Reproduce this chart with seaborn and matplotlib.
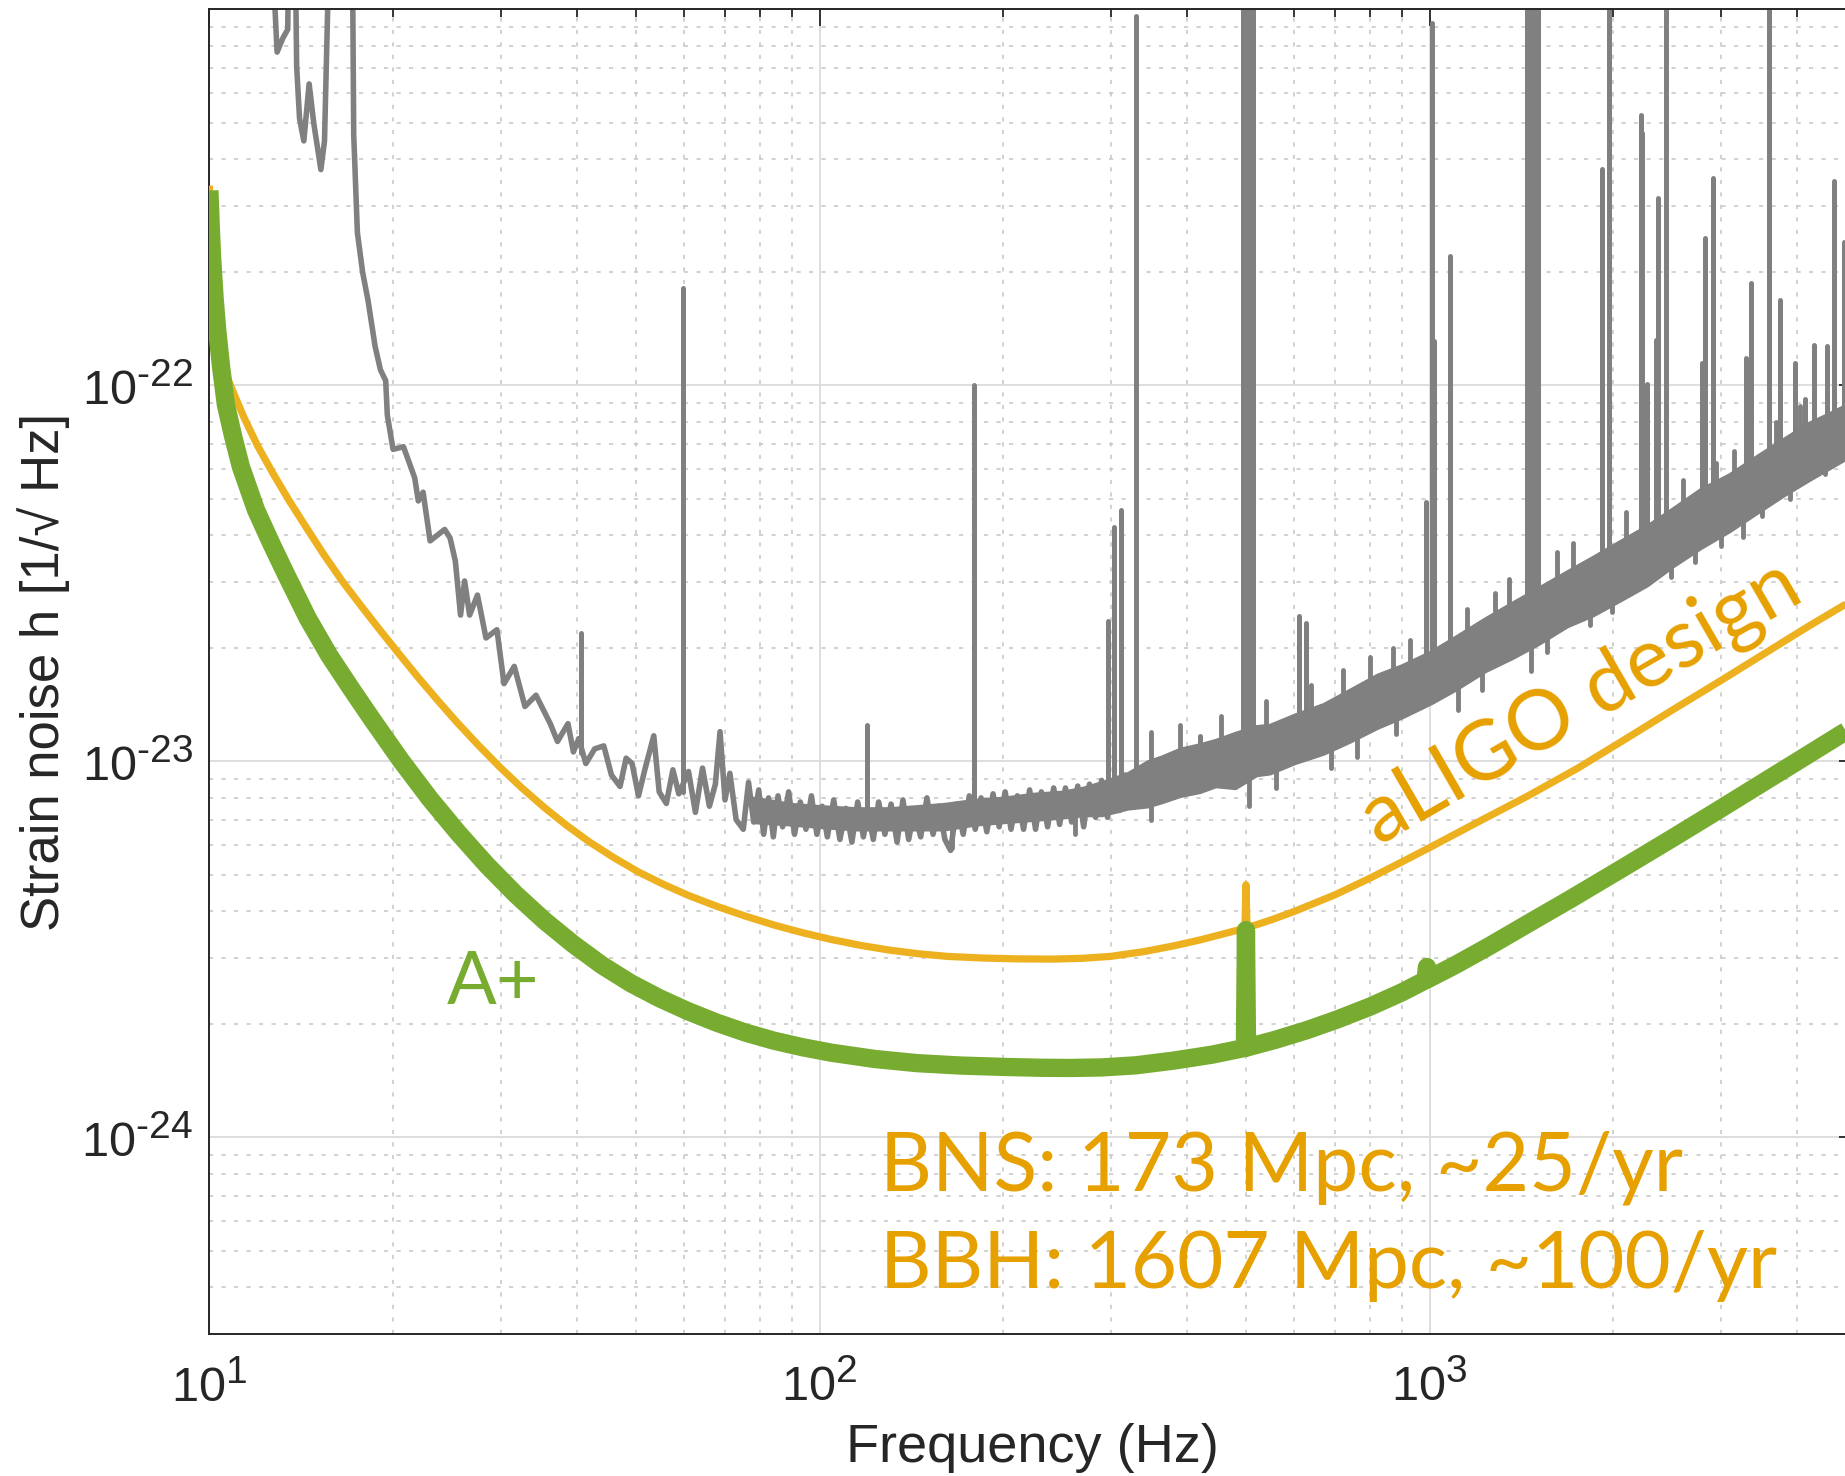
import math
import matplotlib
matplotlib.use("Agg")
import matplotlib.pyplot as plt
import seaborn as sns
from matplotlib.ticker import LogLocator, NullFormatter, FuncFormatter

try:  # slightly larger exponents in the power-of-ten labels
    import matplotlib._mathtext as _mt
    _mt.SHRINK_FACTOR = 0.8
except Exception:
    pass

# ---------------- measured strain noise (gray) ----------------
# broadband trace, Hz -> 1/sqrt(Hz)
trace_freq = [
    12.4, 12.91, 13.2, 13.44, 13.55, 13.75, 13.9, 14.05, 14.28, 14.57, 14.83,
    15.23, 15.44, 15.58, 15.9, 17.1, 17.24, 17.48, 17.83, 18.2, 18.69, 19.07,
    19.45, 19.57, 20.0, 20.8, 21.7, 22.0, 22.4, 23.0, 24.3, 24.8, 25.3, 25.8,
    26.2, 26.7, 27.5, 28.4, 29.6, 30.4, 31.6, 32.9, 34.3, 36.2, 37.2, 38.7,
    39.5, 40.3, 41.4, 42.8, 44.3, 45.6, 47.1, 48.2, 49.3, 50.5, 51.8, 53.5,
    54.6, 56.1, 57.5, 58.8, 61.0, 62.6, 64.3, 66.0, 67.5, 68.7, 70.0, 71.3,
    73.0, 75.0, 76.5, 78.0, 79.5, 81.0, 82.5, 84.0, 85.5, 87.0, 89.0, 91.0,
    93.0, 95.0, 97.0, 99.0, 101.0, 103.0, 105.5, 108.0, 110.5, 113.0, 115.5,
    118.0, 120.0, 122.5, 125.0, 128.0, 131.0, 134.0, 137.0, 140.0, 143.0,
    146.5, 150.0, 153.5, 157.0, 160.5, 164.0, 168.0, 172.0, 176.0, 180.0,
    184.0, 188.0, 192.5, 197.0, 201.5, 206.0, 211.0, 216.0, 221.0, 226.0,
    231.0, 236.5, 242.0, 247.5, 253.0, 259.0, 265.0, 271.0, 277.0, 283.5,
    290.0, 296.5, 303.0, 310.0, 317.0,
]
trace_strain = [
    3e-21, 7.7e-22, 8.4e-22, 8.85e-22, 3e-21, 3e-21, 7.05e-22, 5.14e-22,
    4.47e-22, 6.34e-22, 4.97e-22, 3.75e-22, 4.47e-22, 8.4e-22, 3e-21, 3e-21,
    4.64e-22, 2.55e-22, 2.0e-22, 1.68e-22, 1.27e-22, 1.10e-22, 1.03e-22,
    8.34e-23, 6.76e-23, 6.87e-23, 5.68e-23, 4.93e-23, 5.2e-23, 3.86e-23,
    4.14e-23, 3.93e-23, 3.41e-23, 2.45e-23, 3.02e-23, 2.45e-23, 2.77e-23,
    2.13e-23, 2.24e-23, 1.61e-23, 1.79e-23, 1.40e-23, 1.50e-23, 1.26e-23,
    1.13e-23, 1.26e-23, 1.06e-23, 1.15e-23, 9.87e-24, 1.08e-23, 1.10e-23,
    9.2e-24, 8.58e-24, 1.02e-23, 9.87e-24, 8.1e-24, 9.6e-24, 1.17e-23,
    8.3e-24, 7.73e-24, 9.5e-24, 8.2e-24, 9.4e-24, 7.32e-24, 9.6e-24, 7.6e-24,
    8.7e-24, 1.20e-23, 7.9e-24, 9.3e-24, 7.0e-24, 6.6e-24, 8.8e-24, 6.9e-24,
    8.4e-24, 6.4e-24, 8.0e-24, 6.3e-24, 8.1e-24, 6.7e-24, 8.3e-24, 6.4e-24,
    7.8e-24, 6.6e-24, 8.1e-24, 6.4e-24, 7.6e-24, 6.3e-24, 7.9e-24, 6.2e-24,
    7.5e-24, 6.1e-24, 7.8e-24, 6.3e-24, 7.4e-24, 6.2e-24, 7.8e-24, 6.4e-24,
    7.7e-24, 6.1e-24, 7.9e-24, 6.2e-24, 7.4e-24, 6.3e-24, 8.0e-24, 6.4e-24,
    7.6e-24, 6.2e-24, 5.8e-24, 7.7e-24, 6.4e-24, 8.1e-24, 6.6e-24, 8.0e-24,
    6.5e-24, 8.2e-24, 6.7e-24, 8.3e-24, 6.6e-24, 8.1e-24, 6.6e-24, 8.4e-24,
    6.6e-24, 8.3e-24, 6.7e-24, 8.5e-24, 6.8e-24, 8.5e-24, 6.9e-24, 8.6e-24,
    6.7e-24, 8.7e-24, 7.1e-24, 8.9e-24, 7.1e-24, 8.8e-24, 7.4e-24, 9.2e-24,
]

# dense part of the spectrum: lower / upper envelope
band_freq = [78, 90, 100, 115, 130, 145, 160, 180, 200, 225, 250, 270, 290,
             320, 345, 364, 390, 420, 446, 480, 520, 547, 600, 670, 740, 821,
             900, 1006, 1100, 1233, 1370, 1511, 1680, 1853, 2050, 2270, 2500,
             2782, 3100, 3414, 3800, 4180, 4500, 4900]
band_low = [6.9e-24, 6.8e-24, 6.7e-24, 6.6e-24, 6.6e-24, 6.6e-24, 6.6e-24,
            6.8e-24, 6.9e-24, 7.0e-24, 7.1e-24, 7.2e-24, 7.2e-24, 7.5e-24,
            7.6e-24, 7.8e-24, 8.1e-24, 8.3e-24, 8.6e-24, 8.5e-24, 9.2e-24,
            9.3e-24, 9.9e-24, 1.05e-23, 1.13e-23, 1.23e-23, 1.31e-23,
            1.43e-23, 1.55e-23, 1.74e-23, 1.89e-23, 2.06e-23, 2.29e-23,
            2.45e-23, 2.68e-23, 2.94e-23, 3.30e-23, 3.70e-23, 4.10e-23,
            4.55e-23, 5.10e-23, 5.60e-23, 6.00e-23, 6.50e-23]
band_high = [8.0e-24, 7.7e-24, 7.6e-24, 7.5e-24, 7.5e-24, 7.6e-24, 7.7e-24,
             7.9e-24, 8.0e-24, 8.2e-24, 8.3e-24, 8.5e-24, 8.8e-24, 9.3e-24,
             1.00e-23, 1.03e-23, 1.08e-23, 1.11e-23, 1.14e-23, 1.19e-23,
             1.24e-23, 1.25e-23, 1.33e-23, 1.42e-23, 1.55e-23, 1.70e-23,
             1.80e-23, 1.96e-23, 2.14e-23, 2.40e-23, 2.65e-23, 2.90e-23,
             3.20e-23, 3.50e-23, 3.85e-23, 4.23e-23, 4.70e-23, 5.30e-23,
             5.80e-23, 6.44e-23, 7.20e-23, 7.94e-23, 8.40e-23, 9.00e-23]

# short excursions at the edges of the dense part
fuzz_freq = [165, 262, 350, 505, 560, 690, 760, 880, 1114, 1220, 1466, 1560,
             1830, 1990, 2488, 2725, 3000, 3260, 3500, 3900, 4450,
             350, 390, 455, 540, 640, 720, 800, 870, 930, 1150, 1280, 1350,
             1620, 1720, 2100, 2600, 2950, 3150, 3700, 4050]
fuzz_from = [7.0e-24, 7.6e-24, 8.7e-24, 1.0e-23, 1.08e-23, 1.2e-23, 1.3e-23,
             1.45e-23, 1.8e-23, 2.0e-23, 2.4e-23, 2.6e-23, 2.9e-23, 3.2e-23,
             3.9e-23, 4.3e-23, 4.7e-23, 5.1e-23, 5.5e-23, 6.0e-23, 7.0e-23,
             8.7e-24, 9.4e-24, 9.9e-24, 1.05e-23, 1.15e-23, 1.25e-23,
             1.38e-23, 1.47e-23, 1.56e-23, 1.9e-23, 2.1e-23, 2.25e-23,
             2.65e-23, 2.8e-23, 3.3e-23, 4.1e-23, 4.5e-23, 4.8e-23, 5.7e-23,
             6.2e-23]
fuzz_to = [5.9e-24, 6.4e-24, 7.0e-24, 7.6e-24, 8.5e-24, 9.6e-24, 1.03e-23,
           1.18e-23, 1.37e-23, 1.55e-23, 1.74e-23, 1.95e-23, 2.3e-23, 2.5e-23,
           3.1e-23, 3.4e-23, 3.75e-23, 3.95e-23, 4.5e-23, 5.0e-23, 5.8e-23,
           1.2e-23, 1.25e-23, 1.32e-23, 1.45e-23, 1.6e-23, 1.75e-23, 1.9e-23,
           2.0e-23, 2.1e-23, 2.55e-23, 2.8e-23, 3.05e-23, 3.6e-23, 3.8e-23,
           4.6e-23, 5.6e-23, 6.2e-23, 6.7e-23, 8.0e-23, 8.8e-23]

# narrow instrumental lines: frequency, floor, peak
line_freq = [40.7, 59.8, 119.6, 179.0, 297.5, 304, 312, 330, 420,
             494, 499, 504, 509, 514, 611, 628, 986, 1009, 1015, 1079,
             1445, 1460, 1475, 1490, 1505, 1914, 1971, 2217, 2230, 2275,
             2353, 2367, 2438, 2800, 2826, 2912, 3300, 3362, 3604, 3753,
             3976, 4120, 4273, 4485, 4604, 4775]
line_base = [1.05e-23, 8.3e-24, 7.0e-24, 7.0e-24, 7.8e-24, 7.8e-24, 7.8e-24,
             8.0e-24, 8.8e-24, 9.5e-24, 9.5e-24, 9.5e-24, 9.5e-24, 9.5e-24,
             1.1e-23, 1.1e-23, 1.6e-23, 1.6e-23, 1.6e-23, 1.7e-23,
             2.3e-23, 2.3e-23, 2.3e-23, 2.3e-23, 2.3e-23, 3.0e-23, 3.0e-23,
             3.4e-23, 3.4e-23, 3.5e-23, 3.6e-23, 3.6e-23, 3.7e-23, 4.3e-23,
             4.3e-23, 4.4e-23, 5.0e-23, 5.0e-23, 5.4e-23, 5.6e-23, 5.9e-23,
             6.1e-23, 6.3e-23, 6.6e-23, 6.8e-23, 7.0e-23]
line_peak = [2.2e-23, 1.82e-22, 1.25e-23, 1.0e-22, 2.37e-23, 4.2e-23, 4.66e-23,
             9.6e-22, 1.17e-23, 2e-21, 2e-21, 2e-21, 2e-21, 2e-21, 2.44e-23,
             2.33e-23, 4.9e-23, 9.2e-22, 1.31e-22, 2.21e-22, 2e-21, 2e-21,
             2e-21, 2e-21, 2e-21, 3.76e-22, 2e-21, 5.24e-22, 4.7e-22, 1.01e-22,
             1.32e-22, 3.16e-22, 2e-21, 1.15e-22, 2.47e-22, 3.57e-22, 1.18e-22,
             1.87e-22, 2e-21, 1.69e-22, 1.15e-22, 9.2e-23, 1.28e-22, 1.27e-22,
             3.5e-22, 2.41e-22]

# ---------------- design curves ----------------
aligo_freq = [10.0, 10.03, 10.07, 10.13, 10.22, 10.35, 10.5, 10.7, 11.0, 11.4,
              12.0, 12.7, 13.5, 14.4, 15.4, 16.5, 17.7, 19.0, 20.5, 22.0,
              23.7, 25.5, 27.6, 30.0, 32.5, 35.4, 38.5, 42.0, 46.0, 50.5,
              55.5, 61.0, 67.8, 75.5, 84.3, 94.0, 104.6, 117, 130, 145, 162,
              185, 210, 240, 270, 300, 340, 380, 420, 460, 498, 500, 502, 550,
              600, 700, 800, 900, 1000, 1200, 1450, 1750, 2100, 2500, 3000,
              3600, 4200, 5000]
aligo_strain = [3.4e-22, 2.6e-22, 2.0e-22, 1.65e-22, 1.42e-22, 1.26e-22,
                1.15e-22, 1.05e-22, 9.4e-23, 8.2e-23, 6.9e-23, 5.85e-23,
                4.95e-23, 4.2e-23, 3.55e-23, 3.02e-23, 2.60e-23, 2.244e-23,
                1.923e-23, 1.671e-23, 1.45e-23, 1.267e-23, 1.104e-23,
                9.62e-24, 8.51e-24, 7.54e-24, 6.76e-24, 6.10e-24, 5.55e-24,
                5.08e-24, 4.71e-24, 4.40e-24, 4.12e-24, 3.88e-24, 3.67e-24,
                3.50e-24, 3.36e-24, 3.24e-24, 3.15e-24, 3.08e-24, 3.03e-24,
                3.0e-24, 2.985e-24, 2.98e-24, 2.995e-24, 3.03e-24, 3.12e-24,
                3.23e-24, 3.35e-24, 3.48e-24, 3.6e-24, 4.7e-24, 3.61e-24,
                3.79e-24, 3.99e-24, 4.42e-24, 4.9e-24, 5.4e-24, 5.9e-24,
                6.9e-24, 8.1e-24, 9.6e-24, 1.15e-23, 1.37e-23, 1.64e-23,
                1.97e-23, 2.3e-23, 2.72e-23]

aplus_freq = [10.0, 10.05, 10.1, 10.2, 10.3, 10.45, 10.64, 10.93, 11.26,
              11.92, 12.62, 13.36, 14.5, 15.72, 17.06, 18.5, 20.61, 22.96,
              25.58, 28.5, 31.77, 35.42, 39.48, 44.0, 49.02, 54.63, 60.84,
              67.8, 75.56, 84.2, 93.84, 104.6, 123, 144.5, 170.1, 200, 230,
              258, 290, 330, 380, 440, 498, 500, 502, 560, 630, 706, 800, 900,
              985, 990, 995, 1100, 1250, 1448, 1700, 2070, 2500, 2965, 3388,
              4000, 4800, 5000]
aplus_strain = [3.3e-22, 2.65e-22, 2.2e-22, 1.7e-22, 1.4e-22, 1.12e-22,
                8.9e-23, 7.35e-23, 6.08e-23, 4.67e-23, 3.81e-23, 3.14e-23,
                2.40e-23, 1.913e-23, 1.565e-23, 1.29e-23, 1.005e-23, 7.97e-24,
                6.45e-24, 5.3e-24, 4.43e-24, 3.77e-24, 3.265e-24, 2.87e-24,
                2.572e-24, 2.346e-24, 2.167e-24, 2.02e-24, 1.901e-24,
                1.808e-24, 1.737e-24, 1.68e-24, 1.617e-24, 1.576e-24,
                1.553e-24, 1.54e-24, 1.532e-24, 1.53e-24, 1.535e-24,
                1.555e-24, 1.6e-24, 1.66e-24, 1.73e-24, 3.56e-24, 1.735e-24,
                1.82e-24, 1.93e-24, 2.06e-24, 2.23e-24, 2.43e-24, 2.62e-24,
                2.84e-24, 2.64e-24, 2.87e-24, 3.22e-24, 3.7e-24, 4.3e-24,
                5.2e-24, 6.25e-24, 7.4e-24, 8.46e-24, 9.99e-24, 1.2e-23,
                1.25e-23]

x_ticks = [10, 100, 1000]
y_ticks = [1e-24, 1e-23, 1e-22]

GRAY = "#808080"
ORANGE_LINE = "#EDB120"
ORANGE_TEXT = "#E6A000"
GREEN = "#77AC30"
INK = "#262626"

sns.set_theme(style="white")
plt.rcParams["font.family"] = ["Liberation Sans", "DejaVu Sans"]
plt.rcParams["mathtext.fontset"] = "custom"
plt.rcParams["mathtext.rm"] = "Liberation Sans"
plt.rcParams["mathtext.default"] = "regular"

fig = plt.figure(figsize=(18.45, 14.76), dpi=100)
ax = fig.add_axes([0.1135, 0.0962, 0.8925, 0.8974])
ax.set_xscale("log")
ax.set_yscale("log")
ax.set_xlim(10, 5000)
ax.set_ylim(3e-25, 1e-21)

# measured noise
ax.fill_between(band_freq, band_low, band_high, color=GRAY, lw=2.5,
                edgecolor=GRAY, zorder=2)
ax.vlines(fuzz_freq, fuzz_from, fuzz_to, colors=GRAY, linewidth=3.5,
          capstyle="round", zorder=2)
sns.lineplot(x=trace_freq, y=trace_strain, ax=ax, color=GRAY, linewidth=4.0,
             estimator=None, sort=False, zorder=2)
ax.vlines(line_freq, line_base, line_peak, colors=GRAY, linewidth=3.6,
          capstyle="round", zorder=2)

# design sensitivities
sns.lineplot(x=aligo_freq, y=aligo_strain, ax=ax, color=ORANGE_LINE,
             linewidth=5.2, estimator=None, sort=False, zorder=3,
             solid_capstyle="butt")
sns.lineplot(x=aplus_freq, y=aplus_strain, ax=ax, color=GREEN,
             linewidth=13.2, estimator=None, sort=False, zorder=4,
             solid_capstyle="butt")


def power_label(val, pos):
    exp = int(round(math.log10(val)))
    sign = "\u2010" if exp < 0 else ""
    return "$\\mathregular{10^{%s%d}}$" % (sign, abs(exp))


# axes styling
ax.set_xticks(x_ticks)
ax.set_yticks(y_ticks)
ax.xaxis.set_minor_locator(LogLocator(base=10, subs=range(2, 10), numticks=20))
ax.yaxis.set_minor_locator(LogLocator(base=10, subs=range(2, 10), numticks=20))
ax.xaxis.set_major_formatter(FuncFormatter(power_label))
ax.yaxis.set_major_formatter(FuncFormatter(power_label))
ax.xaxis.set_minor_formatter(NullFormatter())
ax.yaxis.set_minor_formatter(NullFormatter())

ax.grid(which="major", color="#dedede", linewidth=1.4, linestyle="-", zorder=0)
ax.grid(which="minor", color="#c9c9c9", linewidth=1.2,
        linestyle=(0, (2.5, 5)), zorder=0)
ax.set_axisbelow(True)

ax.tick_params(which="both", direction="in", top=True, right=True,
               colors=INK, width=1.3)
ax.tick_params(which="major", length=12, labelsize=35)
ax.tick_params(which="minor", length=6)
ax.tick_params(axis="x", which="major", pad=20)
ax.tick_params(axis="y", which="major", pad=12)
for sp in ax.spines.values():
    sp.set_color(INK)
    sp.set_linewidth(1.4)

ax.set_xlabel("Frequency (Hz)", fontsize=39, color=INK, labelpad=8)
ax.set_ylabel("Strain noise h [1/\u221a Hz]", fontsize=38, color=INK,
              labelpad=8)

# annotations
ax.text(24.5, 2.27e-24, "A+", color=GREEN, fontsize=53, family="Lato",
        ha="left", va="baseline", zorder=5)
ax.text(1846, 1.27e-23, "aLIGO design", color=ORANGE_TEXT, fontsize=60,
        family="Lato", rotation=30, rotation_mode="anchor", ha="center",
        va="baseline", zorder=5)
ax.text(125.7, 7.22e-25, "BNS: 173 Mpc, ~25/yr", color=ORANGE_TEXT,
        fontsize=58, family="Lato", ha="left", va="baseline", zorder=5)
ax.text(125.7, 3.98e-25, "BBH: 1607 Mpc, ~100/yr", color=ORANGE_TEXT,
        fontsize=57.5, family="Lato", ha="left", va="baseline", zorder=5)

fig.savefig("out.png", dpi=100)
